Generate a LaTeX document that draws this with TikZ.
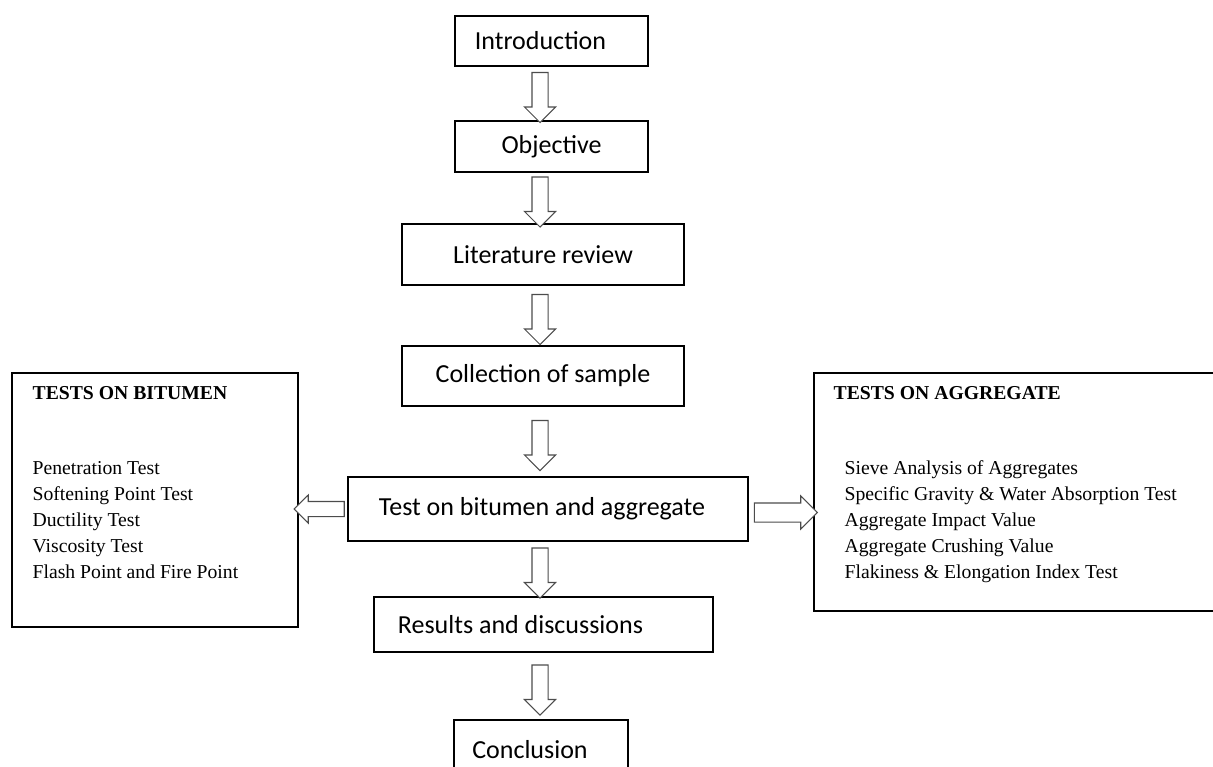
\documentclass[tikz,border=0pt]{standalone}
\usepackage{fontspec}
\setmainfont{Liberation Serif}
\newfontfamily\calibri{Carlito}
\usetikzlibrary{shapes.arrows,calc,positioning}
\tikzstyle{stage} = [rectangle, draw, line width=0.8pt, inner sep=0pt, font=\calibri\fontsize{14.8}{18}\selectfont]
\tikzstyle{testbox} = [rectangle, draw, line width=0.8pt, inner sep=0pt]
\tikzstyle{item} = [anchor=base west, inner sep=0pt, font=\fontsize{11.2}{13.5}\selectfont]
\tikzstyle{blockarr} = [single arrow, draw=black!70, fill=white, line width=0.6pt, inner xsep=0pt]
\tikzstyle{downarr} = [blockarr, rotate=-90, inner ysep=0.15cm, single arrow head extend=0.15cm, minimum width=0.6cm, minimum height=1cm]

\begin{document}
\begin{tikzpicture}
    \useasboundingbox (0,0) rectangle (24.26,-15.34);

    % main flow
    \node[stage, minimum width=3.86cm, minimum height=1.0cm] (intro) at (11.03,-0.82) {Introduction\hspace*{0.44cm}};
    \node[stage, minimum width=3.86cm, minimum height=1.02cm] (objective) at (11.03,-2.93) {Objective};
    \node[stage, minimum width=5.64cm, minimum height=1.22cm] (litreview) at (10.86,-5.09) {Literature review};
    \node[stage, minimum width=5.64cm, minimum height=1.2cm] (collection) at (10.86,-7.52) {Collection of sample};
    \node[stage, minimum width=8.0cm, minimum height=1.28cm] (testing) at (10.96,-10.18) {Test on bitumen and aggregate\hspace*{0.24cm}};
    \node[stage, minimum width=6.78cm, minimum height=1.1cm] (results) at (10.87,-12.49) {Results and discussions\hspace*{0.92cm}};
    \node[stage, minimum width=3.48cm, minimum height=1.2cm] (conclusion) at (10.82,-15.0) {Conclusion\hspace*{0.44cm}};

    % side boxes
    \node[testbox, minimum width=5.72cm, minimum height=5.08cm] (bitumen) at (3.1,-10.0) {};
    \node[item, font=\fontsize{11.2}{13.5}\selectfont\bfseries] (bithead) at ($(bitumen.north west)+(0.42,-0.54)$) {TESTS ON BITUMEN};
    \foreach \t [count=\i] in {Penetration Test, Softening Point Test, Ductility Test, Viscosity Test, Flash Point and Fire Point}
        \node[item] (bit\i) at ($(bitumen.north west)+(0.42,-1.52-0.52*\i)$) {\t};

    \node[testbox, minimum width=8.2cm, minimum height=4.76cm] (aggregate) at (20.38,-9.84) {};
    \node[item, font=\fontsize{11.2}{13.5}\selectfont\bfseries] (agghead) at ($(aggregate.north west)+(0.40,-0.54)$) {TESTS ON AGGREGATE};
    \foreach \t [count=\i] in {Sieve Analysis of Aggregates, Specific Gravity \& Water Absorption Test, Aggregate Impact Value, Aggregate Crushing Value, Flakiness \& Elongation Index Test}
        \node[item] (agg\i) at ($(aggregate.north west)+(0.62,-1.52-0.52*\i)$) {\t};

    % block arrows
    \coordinate (spine) at (10.8,0);
    \foreach \a/\b in {intro/objective, objective/litreview, litreview/collection, collection/testing, testing/results, results/conclusion} {
        \coordinate (mid) at ($(\a.south)!0.5!(\b.north)$);
        \node[downarr] (arr\a) at (spine |- mid) {};
    }
    \node[blockarr, rotate=180, inner ysep=0.14cm, single arrow head extend=0.13cm, minimum width=0.54cm, minimum height=1cm] (arrbit) at ($(testing.west)!0.5!(bitumen.east |- testing.west)$) {};
    \node[blockarr, inner ysep=0.18cm, single arrow head extend=0.14cm, minimum width=0.64cm, minimum height=1.26cm, yshift=-0.07cm] (arragg) at ($(testing.east)!0.5!(aggregate.west |- testing.east)$) {};
\end{tikzpicture}
\end{document}
